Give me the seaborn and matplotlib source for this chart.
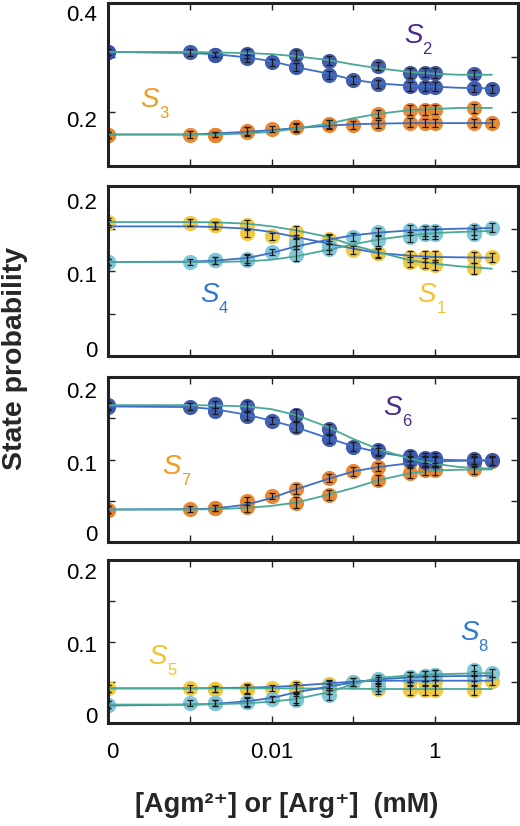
import matplotlib
matplotlib.use("Agg")
import matplotlib.pyplot as plt
import matplotlib.transforms as mtransforms
import seaborn as sns

# concentrations in mM; 1e-4 is where the zero-ligand point is drawn ("0")
x_agm = [1e-4, 1e-3, 2e-3, 5e-3, 0.01, 0.02, 0.05, 0.1, 0.2, 0.5, 0.75, 1, 3, 5]
x_arg = [1e-4, 2e-3, 5e-3, 0.02, 0.05, 0.2, 0.5, 0.75, 1, 3]
x_fit = [1e-4, 1e-3, 2e-3, 5e-3, 0.01, 0.02, 0.05, 0.1, 0.2, 0.5, 1, 2, 5]

# panel 1
s2_agm = [0.310, 0.309, 0.305, 0.298, 0.291, 0.282, 0.268, 0.258, 0.251, 0.247, 0.246, 0.246, 0.243, 0.242]
s2_arg = [0.310, 0.305, 0.307, 0.305, 0.294, 0.284, 0.271, 0.272, 0.271, 0.269]
s2_fit_agm = [0.310, 0.308, 0.306, 0.300, 0.293, 0.282, 0.270, 0.259, 0.252, 0.248, 0.246, 0.244, 0.243]
s2_fit_arg = [0.310, 0.310, 0.309, 0.308, 0.306, 0.302, 0.295, 0.287, 0.280, 0.273, 0.270, 0.268, 0.268]
s3_agm = [0.157, 0.158, 0.158, 0.165, 0.168, 0.171, 0.177, 0.176, 0.177, 0.180, 0.179, 0.179, 0.179, 0.179]
s3_arg = [0.157, 0.158, 0.163, 0.171, 0.176, 0.196, 0.203, 0.203, 0.204, 0.206]
s3_fit_agm = [0.158, 0.158, 0.160, 0.163, 0.166, 0.170, 0.174, 0.177, 0.178, 0.179, 0.179, 0.179, 0.179]
s3_fit_arg = [0.158, 0.158, 0.158, 0.160, 0.163, 0.169, 0.178, 0.188, 0.196, 0.203, 0.205, 0.207, 0.207]

# panel 2
s1_agm = [0.156, 0.157, 0.154, 0.145, 0.141, 0.136, 0.137, 0.125, 0.121, 0.117, 0.117, 0.117, 0.116, 0.116]
s1_arg = [0.158, 0.154, 0.1545, 0.146, 0.138, 0.121, 0.111, 0.109, 0.107, 0.103]
s1_fit_agm = [0.1525, 0.1525, 0.1518, 0.1498, 0.1459, 0.140, 0.1322, 0.1263, 0.1212, 0.118, 0.1165, 0.1161, 0.1157]
s1_fit_arg = [0.1576, 0.1576, 0.1573, 0.1557, 0.1525, 0.1478, 0.140, 0.1302, 0.1224, 0.1125, 0.1086, 0.1055, 0.1027]
s4_agm = [0.1106, 0.1106, 0.1125, 0.1145, 0.1224, 0.132, 0.130, 0.140, 0.146, 0.1486, 0.147, 0.147, 0.1486, 0.151]
s4_arg = [0.1106, 0.1125, 0.113, 0.1184, 0.126, 0.136, 0.140, 0.144, 0.144, 0.144]
s4_fit_agm = [0.1106, 0.111, 0.1122, 0.1153, 0.1212, 0.129, 0.1369, 0.142, 0.1451, 0.1478, 0.149, 0.1498, 0.1506]
s4_fit_arg = [0.1106, 0.1106, 0.1106, 0.1114, 0.1133, 0.1173, 0.1251, 0.1314, 0.1369, 0.142, 0.1447, 0.1459, 0.1471]

# panel 3
s6_agm = [0.164, 0.164, 0.159, 0.153, 0.147, 0.139, 0.125, 0.1157, 0.1088, 0.104, 0.1016, 0.1016, 0.1008, 0.0988]
s6_arg = [0.1655, 0.167, 0.165, 0.1538, 0.137, 0.111, 0.0988, 0.0968, 0.0968, 0.0975]
s6_fit_agm = [0.1643, 0.1635, 0.161, 0.1542, 0.147, 0.139, 0.1257, 0.1161, 0.1088, 0.1028, 0.100, 0.0992, 0.0988]
s6_fit_arg = [0.1659, 0.1659, 0.1655, 0.1643, 0.161, 0.1538, 0.139, 0.1249, 0.1129, 0.1008, 0.0948, 0.0908, 0.0888]
s7_agm = [0.0394, 0.040, 0.0414, 0.0494, 0.0558, 0.0647, 0.0775, 0.0855, 0.0908, 0.0968, 0.098, 0.098, 0.0985, 0.098]
s7_arg = [0.0394, 0.0414, 0.0426, 0.0478, 0.0574, 0.0747, 0.0839, 0.0867, 0.0867, 0.088]
s7_fit_agm = [0.0394, 0.0398, 0.0406, 0.0454, 0.0534, 0.0639, 0.0767, 0.0855, 0.0908, 0.0956, 0.0976, 0.0984, 0.0988]
s7_fit_arg = [0.0394, 0.0394, 0.0398, 0.0414, 0.0438, 0.0478, 0.0574, 0.0655, 0.0747, 0.0835, 0.0867, 0.0876, 0.088]

# panel 4
s5_agm = [0.0425, 0.0425, 0.0417, 0.0417, 0.043, 0.0438, 0.0478, 0.050, 0.051, 0.052, 0.052, 0.052, 0.052, 0.052]
s5_arg = [0.0425, 0.0417, 0.0417, 0.0405, 0.042, 0.0417, 0.0405, 0.0405, 0.0405, 0.0405]
s5_fit_agm = [0.0425, 0.0425, 0.0429, 0.0434, 0.0442, 0.0458, 0.0487, 0.0507, 0.0519, 0.0519, 0.0519, 0.0519, 0.0519]
s5_fit_arg = [0.0425, 0.0425, 0.0425, 0.0425, 0.0425, 0.0425, 0.0421, 0.0421, 0.0417, 0.0417, 0.0417, 0.0417, 0.0417]
s8_agm = [0.0226, 0.0246, 0.0246, 0.0254, 0.0295, 0.031, 0.046, 0.050, 0.054, 0.0568, 0.058, 0.059, 0.058, 0.061]
s8_arg = [0.0226, 0.0246, 0.0254, 0.0287, 0.0344, 0.0458, 0.0568, 0.058, 0.059, 0.065]
s8_fit_agm = [0.0214, 0.0226, 0.0234, 0.0267, 0.0307, 0.0377, 0.0446, 0.0499, 0.0535, 0.056, 0.0572, 0.0576, 0.058]
s8_fit_arg = [0.0226, 0.0226, 0.023, 0.0242, 0.0262, 0.0295, 0.0377, 0.0478, 0.0552, 0.0584, 0.0597, 0.0605, 0.0613]

# error bars (half widths)
err_agm_top = [0.005, 0.006, 0.005, 0.007, 0.006, 0.007, 0.007, 0.007, 0.007, 0.008, 0.008, 0.008, 0.007, 0.007]
err_arg_top = [0.005, 0.005, 0.008, 0.009, 0.008, 0.008, 0.009, 0.009, 0.009, 0.008]
err_agm = [0.004, 0.004, 0.004, 0.005, 0.004, 0.006, 0.005, 0.005, 0.005, 0.006, 0.006, 0.006, 0.006, 0.005]
err_arg = [0.004, 0.004, 0.006, 0.007, 0.006, 0.006, 0.006, 0.006, 0.006, 0.006]

dark_blue = "#3a55a8"
orange = "#e8832a"
yellow = "#f0c83c"
light_blue = "#7cc4d8"
line_agm = "#3d6fc6"
line_arg = "#4aa897"

sns.set_theme(style="ticks")
plt.rcParams["font.family"] = ["Liberation Sans", "DejaVu Sans"]

# states are drawn back to front; labels give subscript, colour and position of the S
panels = [
    dict(rect=(0.2083, 0.799, 0.787, 0.1973), ylim=(0.1, 0.4),
         yticks=[0.1, 0.2, 0.3, 0.4], ylabels=["", "0.2", "", "0.4"], yshift=[0, -7, 0, -10],
         states=[(s3_agm, s3_arg, s3_fit_agm, s3_fit_arg, orange),
                 (s2_agm, s2_arg, s2_fit_agm, s2_fit_arg, dark_blue)],
         err=(err_agm_top, err_arg_top),
         labels=[("2", "#4b2a8c", 0.722, 0.80), ("3", "#f29a1c", 0.078, 0.405)]),
    dict(rect=(0.2083, 0.569, 0.787, 0.2058), ylim=(0, 0.2),
         yticks=[0, 0.05, 0.1, 0.15, 0.2], ylabels=["0", "", "0.1", "", "0.2"], yshift=[7, 0, -3, 0, -15],
         states=[(s1_agm, s1_arg, s1_fit_agm, s1_fit_arg, yellow),
                 (s4_agm, s4_arg, s4_fit_agm, s4_fit_arg, light_blue)],
         err=(err_agm, err_arg),
         labels=[("4", "#2f78d2", 0.224, 0.36), ("1", "#f2c232", 0.756, 0.36)]),
    dict(rect=(0.2083, 0.3438, 0.787, 0.1998), ylim=(0, 0.2),
         yticks=[0, 0.05, 0.1, 0.15, 0.2], ylabels=["0", "", "0.1", "", "0.2"], yshift=[9, 0, -3, 0, -13],
         states=[(s7_agm, s7_arg, s7_fit_agm, s7_fit_arg, orange),
                 (s6_agm, s6_arg, s6_fit_agm, s6_fit_arg, dark_blue)],
         err=(err_agm, err_arg),
         labels=[("6", "#4b2a8c", 0.671, 0.812), ("7", "#f29a1c", 0.132, 0.455)]),
    dict(rect=(0.2083, 0.1247, 0.787, 0.1973), ylim=(0, 0.2),
         yticks=[0, 0.05, 0.1, 0.15, 0.2], ylabels=["0", "", "0.1", "", "0.2"], yshift=[8, 0, -2, 0, -11],
         states=[(s5_agm, s5_arg, s5_fit_agm, s5_fit_arg, yellow),
                 (s8_agm, s8_arg, s8_fit_agm, s8_fit_arg, light_blue)],
         err=(err_agm, err_arg),
         labels=[("5", "#f2c232", 0.098, 0.405), ("8", "#2f78d2", 0.859, 0.552)]),
]

fig = plt.figure(figsize=(5.2, 8.26), dpi=100)

for i, p in enumerate(panels):
    ax = fig.add_axes(p["rect"])
    ax.set_facecolor("white")
    ax.set_xscale("log")
    e_agm, e_arg = p["err"]
    for y_agm, y_arg, f_agm, f_arg, col in p["states"]:
        sns.scatterplot(x=x_agm, y=y_agm, ax=ax, color=col, s=120, linewidth=0, alpha=0.95, zorder=2, legend=False)
        sns.scatterplot(x=x_arg, y=y_arg, ax=ax, color=col, s=120, linewidth=0, alpha=0.95, zorder=2, legend=False)
    for y_agm, y_arg, f_agm, f_arg, col in p["states"]:
        sns.lineplot(x=x_fit, y=f_agm, ax=ax, color=line_agm, linewidth=1.3, zorder=3)
        sns.lineplot(x=x_fit, y=f_arg, ax=ax, color=line_arg, linewidth=1.3, zorder=3)
        ax.errorbar(x_agm, y_agm, yerr=e_agm, fmt="none", ecolor="#1a1a1a", elinewidth=0.9,
                    capsize=2, capthick=0.9, zorder=4)
        ax.errorbar(x_arg, y_arg, yerr=e_arg, fmt="none", ecolor="#1a1a1a", elinewidth=0.9,
                    capsize=2, capthick=0.9, zorder=4)

    # state names: italic S with a small, low subscript
    for num, col, fx, fy in p["labels"]:
        ax.text(fx, fy, "S", transform=ax.transAxes, color=col, fontsize=20,
                style="italic", ha="left", va="center")
        ax.annotate(num, xy=(fx, fy), xycoords="axes fraction", xytext=(13.5, -10),
                    textcoords="offset points", color=col, fontsize=12, ha="left", va="center")

    ax.set_xlim(1e-4, 10.3)
    ax.set_ylim(*p["ylim"])
    ax.minorticks_off()
    ax.set_xticks([1e-4, 1e-3, 1e-2, 1e-1, 1])
    ax.set_xticklabels(["0", "", "0.01", "", "1"] if i == 3 else [""] * 5)
    ax.set_yticks(p["yticks"])
    ax.set_yticklabels(p["ylabels"])
    ax.set_xlabel("")
    ax.set_ylabel("")
    ax.tick_params(direction="in", top=True, right=True, length=5, width=1,
                   color="#222222", labelsize=16, labelcolor="black")
    ax.tick_params(axis="x", pad=14)
    ax.tick_params(axis="y", pad=8)
    for sp in ax.spines.values():
        sp.set_linewidth(2.2)
        sp.set_color("#222222")

    for lab, dy in zip(ax.get_yticklabels(), p["yshift"]):
        lab.set_transform(lab.get_transform() + mtransforms.ScaledTranslation(0, dy / 100, fig.dpi_scale_trans))
    if i == 3:
        first = ax.get_xticklabels()[0]
        first.set_transform(first.get_transform() + mtransforms.ScaledTranslation(4 / 100, 0, fig.dpi_scale_trans))

fig.text(0.029, 0.566, "State probability", rotation=90, ha="center", va="center",
         fontsize=20.5, fontweight="bold")
fig.text(0.551, 0.026, "[Agm²⁺] or [Arg⁺]  (mM)", ha="center", va="center",
         fontsize=19.5, fontweight="bold")

fig.savefig("out.png", dpi=100)
